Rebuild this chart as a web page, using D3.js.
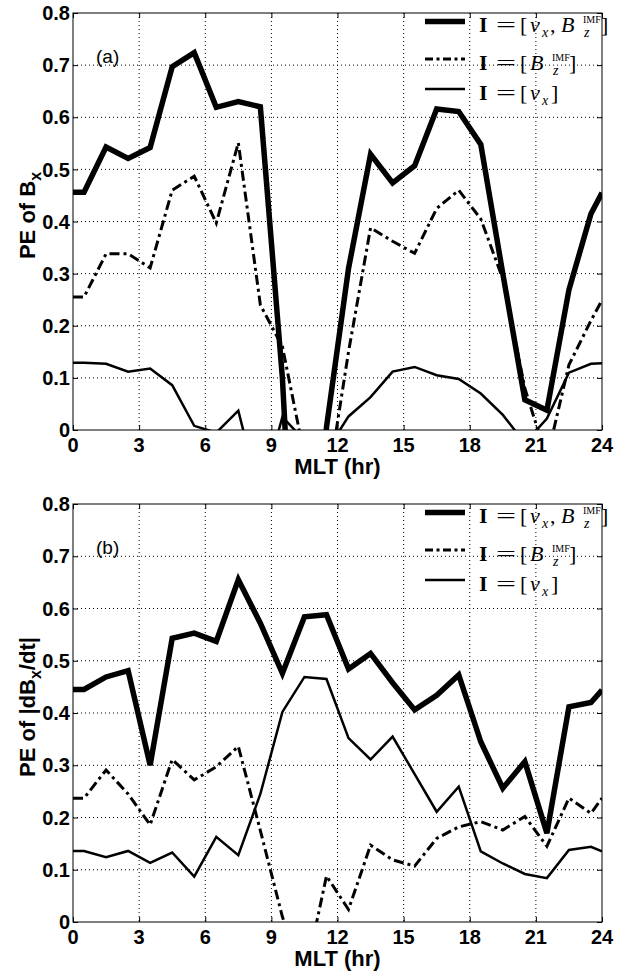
<!DOCTYPE html>
<html>
<head>
<meta charset="utf-8">
<script src="https://cdnjs.cloudflare.com/ajax/libs/d3/7.8.5/d3.min.js"></script>
<style>
  body { margin: 0; background: #fff; }
  svg { display: block; }
  .tick-label { font-family: "Liberation Sans", Arial, sans-serif; font-weight: bold; font-size: 20px; }
  .ax-label { font-family: "Liberation Sans", Arial, sans-serif; font-weight: bold; font-size: 22px; }
  .tag { font-family: "Liberation Sans", Arial, sans-serif; font-size: 19px; }
  .leg { font-family: "Liberation Serif", "DejaVu Serif", serif; }
</style>
</head>
<body>
<svg id="chart" width="627" height="973"></svg>
<script>
// MLT bins (hr), with the wrap-around ends at 0 and 24
var mlt = [0, 0.5, 1.5, 2.5, 3.5, 4.5, 5.5, 6.5, 7.5, 8.5, 9.5, 10.5, 11.5, 12.5,
           13.5, 14.5, 15.5, 16.5, 17.5, 18.5, 19.5, 20.5, 21.5, 22.5, 23.5, 24];

// panel (a): PE of Bx
var bxBoth = [0.456, 0.456, 0.543, 0.521, 0.542, 0.697, 0.724, 0.619, 0.630, 0.620, 0.10, -0.70, 0.005,
              0.31, 0.529, 0.474, 0.507, 0.616, 0.611, 0.548, 0.30, 0.058, 0.038, 0.269, 0.415, 0.455];
var bxBz   = [0.255, 0.255, 0.338, 0.338, 0.311, 0.460, 0.487, 0.397, 0.551, 0.240, 0.16, -0.05, -0.12,
              0.15, 0.388, 0.362, 0.339, 0.425, 0.460, 0.405, 0.29, 0.08, -0.055, 0.125, 0.21, 0.249];
var bxVx   = [0.129, 0.129, 0.127, 0.112, 0.118, 0.086, 0.008, -0.005, 0.037, -0.13, 0.025, -0.02, -0.04,
              0.026, 0.063, 0.112, 0.121, 0.105, 0.098, 0.070, 0.029, -0.025, 0.022, 0.110, 0.127, 0.128];

// panel (b): PE of |dBx/dt|
var dbBoth = [0.445, 0.445, 0.469, 0.481, 0.300, 0.543, 0.553, 0.537, 0.655, 0.572, 0.476, 0.584, 0.588,
              0.484, 0.514, 0.458, 0.406, 0.434, 0.473, 0.345, 0.256, 0.307, 0.170, 0.412, 0.420, 0.444];
var dbBz   = [0.237, 0.237, 0.291, 0.245, 0.186, 0.311, 0.272, 0.297, 0.336, 0.175, 0.010, -0.11, 0.088,
              0.024, 0.147, 0.119, 0.107, 0.160, 0.182, 0.192, 0.176, 0.202, 0.145, 0.237, 0.208, 0.237];
var dbVx   = [0.136, 0.136, 0.124, 0.136, 0.113, 0.133, 0.087, 0.163, 0.128, 0.245, 0.402, 0.469, 0.465,
              0.352, 0.311, 0.355, 0.283, 0.211, 0.259, 0.135, 0.112, 0.092, 0.084, 0.138, 0.144, 0.135];

var xTicks = [0, 3, 6, 9, 12, 15, 18, 21, 24];
var yTicks = [0, 0.1, 0.2, 0.3, 0.4, 0.5, 0.6, 0.7, 0.8];

var styles = [
  { width: 5.5, dash: null },
  { width: 3, dash: "10,4,3,4" },
  { width: 2.5, dash: null }
];

var svg = d3.select("#chart");
var left = 73, right = 602;

var x = d3.scaleLinear().domain([0, 24]).range([left, right]);

// legend pieces: text, x position, style
var legendRows = [
  [["I", 479, "b"], ["=", 496, "eq"], ["[", 520], ["v", 530, "i"], ["x", 542, "sub"], [",", 550],
   ["B", 561, "i"], ["IMF", 583, "sup"], ["z", 584, "sub"], ["]", 601]],
  [["I", 479, "b"], ["=", 496, "eq"], ["[", 520], ["B", 530, "i"], ["IMF", 552, "sup"], ["z", 553, "sub"],
   ["]", 569]],
  [["I", 479, "b"], ["=", 496, "eq"], ["[", 520], ["v", 530, "i"], ["x", 542, "sub"], ["]", 551]]
];
var legendSample = [8.5, 46, 76];
var legendBase = [18.5, 57, 87];

var drawLegend = function(g, top) {
  legendRows.forEach(function(row, i) {
    var base = top + legendBase[i];
    g.append("line")
      .attr("x1", 425).attr("x2", 465)
      .attr("y1", top + legendSample[i]).attr("y2", top + legendSample[i])
      .attr("stroke", "#000")
      .attr("stroke-width", styles[i].width)
      .attr("stroke-dasharray", i === 1 ? "8,3.5,3,3.5" : null);
    row.forEach(function(p) {
      var t = g.append("text").attr("class", "leg")
        .attr("x", p[1]).attr("y", base)
        .style("font-size", "22px")
        .text(p[0]);
      if (p[2] === "b") t.style("font-weight", "bold");
      if (p[2] === "i") t.style("font-style", "italic");
      if (p[2] === "eq") t.attr("textLength", 20).attr("lengthAdjust", "spacingAndGlyphs");
      if (p[2] === "sub") t.style("font-style", "italic").style("font-size", "14px").attr("y", base + 5);
      if (p[2] === "sup") t.style("font-size", "10px").attr("y", base - 9);
    });
  });
};

var drawPanel = function(id, top, bottom, series, tag, labelMain, labelTail) {
  var y = d3.scaleLinear().domain([0, 0.8]).range([bottom, top]);
  var g = svg.append("g");

  // dotted grid
  g.selectAll(".gx").data(xTicks.slice(1, -1)).enter().append("line")
    .attr("x1", function(d){ return x(d); }).attr("x2", function(d){ return x(d); })
    .attr("y1", top).attr("y2", bottom)
    .attr("stroke", "#000").attr("stroke-width", 1).attr("stroke-dasharray", "1,3");
  g.selectAll(".gy").data(yTicks.slice(1, -1)).enter().append("line")
    .attr("x1", left).attr("x2", right)
    .attr("y1", function(d){ return y(d); }).attr("y2", function(d){ return y(d); })
    .attr("stroke", "#000").attr("stroke-width", 1).attr("stroke-dasharray", "1,3");

  svg.append("clipPath").attr("id", "clip-" + id).append("rect")
    .attr("x", left).attr("y", top).attr("width", right - left).attr("height", bottom - top);

  var line = d3.line()
    .x(function(d){ return x(d[0]); })
    .y(function(d){ return y(d[1]); });

  series.forEach(function(vals, i) {
    var pts = mlt.map(function(h, j){ return [h, vals[j]]; });
    g.append("path")
      .attr("d", line(pts))
      .attr("clip-path", "url(#clip-" + id + ")")
      .attr("fill", "none")
      .attr("stroke", "#000")
      .attr("stroke-width", styles[i].width)
      .attr("stroke-dasharray", styles[i].dash);
  });

  // box with inward ticks, like matlab
  g.append("rect").attr("x", left).attr("y", top)
    .attr("width", right - left).attr("height", bottom - top)
    .attr("fill", "none").attr("stroke", "#000").attr("stroke-width", 1);
  var axB = d3.axisBottom(x).tickValues(xTicks).tickSizeInner(-5).tickSizeOuter(0).tickFormat("");
  var axT = d3.axisTop(x).tickValues(xTicks).tickSizeInner(-5).tickSizeOuter(0).tickFormat("");
  var axL = d3.axisLeft(y).tickValues(yTicks).tickSizeInner(-5).tickSizeOuter(0).tickFormat("");
  var axR = d3.axisRight(y).tickValues(yTicks).tickSizeInner(-5).tickSizeOuter(0).tickFormat("");
  g.append("g").attr("transform", "translate(0," + bottom + ")").call(axB);
  g.append("g").attr("transform", "translate(0," + top + ")").call(axT);
  g.append("g").attr("transform", "translate(" + left + ",0)").call(axL);
  g.append("g").attr("transform", "translate(" + right + ",0)").call(axR);
  g.selectAll(".domain").remove();

  // tick labels
  g.selectAll(".xl").data(xTicks).enter().append("text")
    .attr("class", "tick-label")
    .attr("x", function(d){ return x(d); })
    .attr("y", bottom + 22)
    .attr("text-anchor", "middle")
    .text(function(d){ return d; });
  g.selectAll(".yl").data(yTicks).enter().append("text")
    .attr("class", "tick-label")
    .attr("x", left - 3)
    .attr("y", function(d){ return y(d); })
    .attr("dy", "0.36em")
    .attr("text-anchor", "end")
    .text(function(d){ return d === 0 ? "0" : d3.format(".1f")(d); });

  // axis labels
  g.append("text").attr("class", "ax-label")
    .attr("x", (left + right) / 2).attr("y", bottom + 44)
    .attr("text-anchor", "middle")
    .text("MLT (hr)");
  var yl = g.append("text").attr("class", "ax-label")
    .attr("transform", "translate(35," + ((top + bottom) / 2 - 6) + ") rotate(-90)")
    .attr("text-anchor", "middle");
  yl.append("tspan").text(labelMain);
  yl.append("tspan").attr("dy", 6).style("font-size", "16px").text("x");
  if (labelTail) yl.append("tspan").attr("dy", -6).text(labelTail);

  g.append("text").attr("class", "tag")
    .attr("x", 96).attr("y", top + 50)
    .text(tag);

  drawLegend(g, top);
};

drawPanel("a", 13, 430, [bxBoth, bxBz, bxVx], "(a)", "PE of B", null);
drawPanel("b", 504, 922, [dbBoth, dbBz, dbVx], "(b)", "PE of |dB", "/dt|");
</script>
</body>
</html>
